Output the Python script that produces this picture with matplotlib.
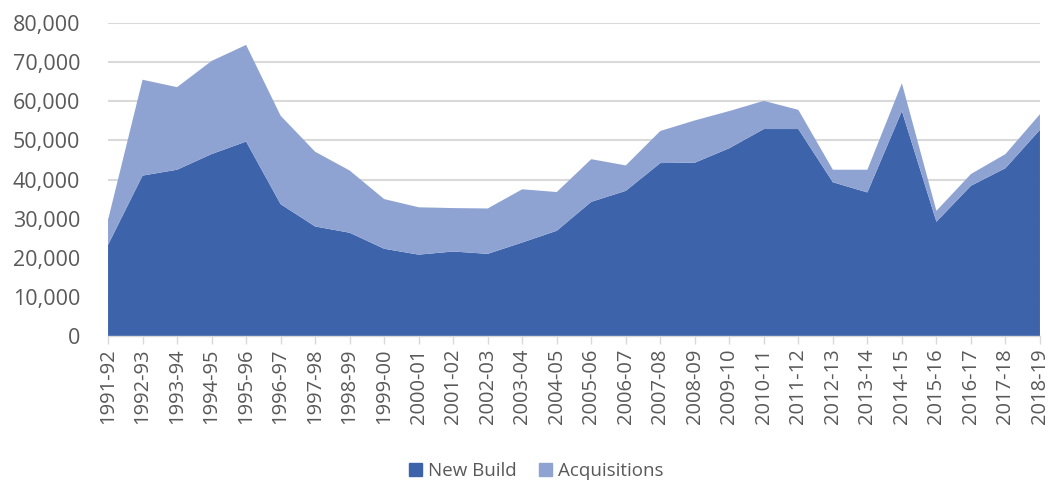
import matplotlib
matplotlib.use("Agg")
import matplotlib.pyplot as plt
from matplotlib.ticker import FuncFormatter
from matplotlib.patches import Patch

years = ["1991-92", "1992-93", "1993-94", "1994-95", "1995-96", "1996-97", "1997-98",
         "1998-99", "1999-00", "2000-01", "2001-02", "2002-03", "2003-04", "2004-05",
         "2005-06", "2006-07", "2007-08", "2008-09", "2009-10", "2010-11", "2011-12",
         "2012-13", "2013-14", "2014-15", "2015-16", "2016-17", "2017-18", "2018-19"]
new_build = [23300, 41000, 42500, 46500, 49700, 33700, 28000, 26400, 22300, 20800,
             21600, 21000, 23900, 26900, 34300, 37100, 44200, 44300, 48000, 52900,
             52900, 39300, 36700, 57500, 29200, 38400, 42900, 52700]
total = [29700, 65500, 63600, 70300, 74400, 56300, 47100, 42300, 35000, 32900,
         32700, 32600, 37500, 36800, 45200, 43600, 52400, 55100, 57500, 60100,
         57800, 42500, 42500, 64600, 32000, 41400, 46500, 56700]
acquisitions = [t - n for t, n in zip(total, new_build)]

c_nb = "#3D64AB"
c_acq = "#8FA3D3"
txt = "#595959"

plt.rcParams['font.family'] = ['Open Sans', 'DejaVu Sans']
fig = plt.figure(figsize=(10.51, 4.86), dpi=100)
ax = fig.add_axes([0.1028, 0.3086, 0.8867, 0.6441])

x = list(range(len(years)))
ax.stackplot(x, new_build, acquisitions, colors=[c_nb, c_acq], linewidth=0, zorder=2)

ax.set_xlim(0, len(years) - 1)
ax.set_ylim(0, 80000)
ax.set_yticks(range(0, 80001, 10000))
ax.yaxis.set_major_formatter(FuncFormatter(lambda v, p: f"{int(v):,}"))
ax.grid(axis='y', color="#D9D9D9", linewidth=1.5, zorder=0)
ax.set_axisbelow(True)

ax.set_xticks(x)
ax.set_xticklabels(years, rotation=90, fontsize=14.5, color=txt)
ax.tick_params(axis='x', direction='out', length=6, width=1, color="#D9D9D9", pad=3)
ax.tick_params(axis='y', length=0, labelsize=15.5, labelcolor=txt, pad=20)

for s in ['top', 'right', 'left']:
    ax.spines[s].set_visible(False)
ax.spines['bottom'].set_color("#D9D9D9")
ax.spines['bottom'].set_linewidth(1)

handles = [Patch(color=c_nb, label="New Build"), Patch(color=c_acq, label="Acquisitions")]
fig.legend(handles=handles, loc='lower center', bbox_to_anchor=(0.51, -0.022), ncol=2,
           frameon=False, fontsize=13.5, handlelength=0.7, handleheight=0.7,
           handletextpad=0.3, columnspacing=1.2, labelcolor=txt)

fig.savefig("out.png", dpi=100)
